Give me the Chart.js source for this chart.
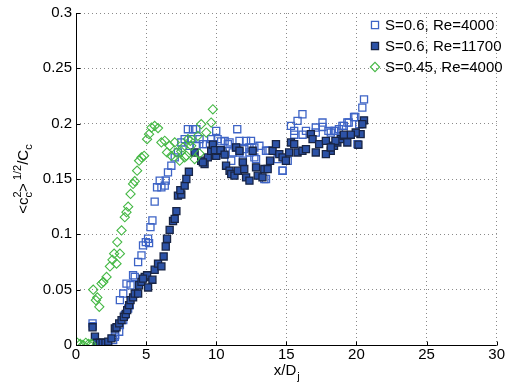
<!DOCTYPE html>
<html>
<head>
<meta charset="utf-8">
<script src="https://cdn.jsdelivr.net/npm/chart.js@4"></script>
<style>
html,body{margin:0;padding:0;background:#fff;}
#wrap{width:506px;height:391px;position:relative;}
</style>
</head>
<body>
<div id="wrap"><canvas id="c" width="506" height="391"></canvas></div>
<script>
// ---- DATA ----
const xTicks = [0, 5, 10, 15, 20, 25, 30];
const yTicks = [0, 0.05, 0.1, 0.15, 0.2, 0.25, 0.3];
const seriesNames = ["S=0.6, Re=4000", "S=0.6, Re=11700", "S=0.45, Re=4000"];

// S=0.6, Re=4000 (open squares)
const openX = [1.18,1.2,2.65,2.77,2.8,3.08,3.13,3.37,3.48,3.72,3.84,3.13,3.37,3.6,3.89,4.07,4.19,4.43,4.67,4.78,4.98,5.21,5.14,5.31,5.45,5.61,5.78,5.97,6.09,6.33,6.4,6.56,6.8,7.04,7.27,7.51,7.75,7.98,8.22,8.34,8.58,8.81,9.29,9.64,10.0,10.1,
  10.6,10.95,11.5,11.66,12.13,12.48,13.08,11.07,11.9,12.37,12.84,13.55,13.8,14.38,14.73,13.55,15.33,15.8,16.15,15.56,16.4,17.1,17.58,18.17,18.5,19.1,
  9.05,9.76,10.35,10.83,11.4,11.18,11.66,12.0,12.37,10.47,8.1,8.6,
  20.54,20.42,19.83,19.35,19.0,18.4,20.07,20.2,
  17.58,17.1,15.56,16.16,18.0,18.75,19.45,19.92,14.73,13.67,12.72,12.72,13.43,15.1];
const openY = [0.0195,0.017,0.0045,0.0075,0.009,0.012,0.018,0.0225,0.027,0.033,0.036,0.0405,0.0465,0.0555,0.054,0.063,0.0615,0.075,0.081,0.09,0.093,0.092,0.096,0.1065,0.1125,0.1295,0.1425,0.1485,0.1425,0.144,0.1485,0.156,0.162,0.1695,0.174,0.183,0.186,0.195,0.186,0.195,0.195,0.186,0.1815,0.186,0.1935,0.186,
  0.1845,0.183,0.195,0.1845,0.1845,0.1845,0.18,0.1665,0.1665,0.174,0.168,0.1755,0.1755,0.168,0.1575,0.15,0.198,0.2025,0.2085,0.1935,0.1935,0.1965,0.201,0.192,0.1935,0.198,
  0.1815,0.1815,0.184,0.1815,0.1785,0.174,0.174,0.177,0.1785,0.174,0.18,0.18,
  0.222,0.2145,0.206,0.201,0.198,0.1935,0.1815,0.1995,
  0.197,0.192,0.19,0.19,0.1935,0.195,0.201,0.206,0.1575,0.1755,0.1785,0.1695,0.15,0.1665];

// S=0.6, Re=11700 (filled squares)
const fillX = [1.18,1.35,1.5,1.7,1.9,2.1,2.3,2.53,2.77,2.89,3.08,3.25,3.41,3.55,3.65,3.79,3.89,4.07,4.19,4.43,4.5,4.67,4.9,5.07,4.78,5.14,5.45,5.61,5.85,6.09,6.25,6.4,6.49,6.68,6.92,7.04,7.16,7.27,7.51,7.44,7.75,7.87,8.05,8.46,8.93,9.17,9.4,9.64,9.76,10.0,
  9.05,10.1,10.35,10.7,10.95,11.07,11.3,11.54,11.9,12.13,12.37,12.0,11.42,11.66,12.6,12.84,12.96,13.3,13.43,13.67,13.84,14.02,14.26,14.5,14.73,14.97,15.2,15.33,15.56,15.8,16.15,16.4,16.75,16.87,17.1,17.34,17.82,18.17,18.4,18.64,18.88,19.1,17.82,
  20.54,20.42,20.3,19.95,19.6,19.1,18.5,19.35,20.14,18.17,9.9,10.3,10.6];
const fillY = [0.016,0.0075,0.002,0.002,0.002,0.002,0.003,0.006,0.015,0.016,0.0195,0.0225,0.0255,0.028,0.0315,0.036,0.0405,0.043,0.0465,0.0465,0.054,0.057,0.0615,0.063,0.06,0.052,0.059,0.068,0.0735,0.071,0.08,0.089,0.096,0.104,0.112,0.114,0.121,0.135,0.136,0.14,0.144,0.15,0.1565,0.174,0.1665,0.1635,0.1695,0.1755,0.181,0.171,
  0.165,0.1755,0.1755,0.162,0.1575,0.1545,0.153,0.1575,0.165,0.1515,0.1485,0.159,0.1785,0.1755,0.1755,0.1605,0.153,0.1515,0.159,0.159,0.1665,0.1755,0.1815,0.1725,0.1695,0.1665,0.174,0.183,0.1815,0.174,0.1755,0.177,0.1905,0.186,0.174,0.1815,0.1845,0.1755,0.18,0.183,0.186,0.189,0.1725,
  0.203,0.1995,0.1905,0.192,0.19,0.19,0.1845,0.183,0.181,0.1785,0.176,0.176,0.172];

// S=0.45, Re=4000 (green diamonds)
const greenX = [0.1,0.3,0.5,0.7,0.9,1.1,1.23,1.42,1.52,1.66,1.82,1.95,2.18,2.42,2.6,2.72,2.89,3.13,2.94,3.25,3.48,3.6,3.72,3.89,4.07,4.19,4.36,4.5,4.67,4.86,5.07,5.21,5.38,5.61,5.85,6.09,6.33,6.49,6.68,6.8,7.04,7.16,7.39,7.63,7.87,8.15,8.46,8.69,8.93,9.29,9.64,9.76,7.98,8.22,7.5,7.75,8.81];
const greenY = [0.002,0.001,0.0,0.002,0.001,0.001,0.05,0.0405,0.043,0.0345,0.0555,0.057,0.0615,0.071,0.077,0.0825,0.0735,0.0825,0.093,0.1035,0.1155,0.12,0.125,0.1365,0.1455,0.148,0.1575,0.1665,0.1695,0.171,0.186,0.1905,0.1965,0.198,0.196,0.183,0.1845,0.174,0.18,0.171,0.183,0.174,0.1665,0.1785,0.171,0.1845,0.168,0.189,0.1995,0.192,0.201,0.213,0.186,0.18,0.175,0.1695,0.173];

const pts = (xs, ys) => xs.map((x, i) => ({x: x, y: ys[i]}));

const FONT = '"Liberation Sans", Arial, Helvetica, sans-serif';
const OPEN_C = '#3e64c6';
const FILL_C = '#2c52a6';
const FILL_B = '#182444';
const GREEN_C = '#45b845';

const styles = [
  {pointStyle: 'rect', radius: 5, bg: 'rgba(255,255,255,0)', border: OPEN_C, bw: 1.3},
  {pointStyle: 'rect', radius: 5, bg: FILL_C, border: FILL_B, bw: 1.3},
  {pointStyle: 'rectRot', radius: 4.6, bg: 'rgba(255,255,255,0)', border: GREEN_C, bw: 1.1}
];

const overlay = {
  id: 'overlay',
  afterDraw(chart) {
    const ctx = chart.ctx;
    const xs = chart.scales.x, ys = chart.scales.y;
    const a = chart.chartArea;
    ctx.save();
    // solid axis lines and inside ticks
    ctx.strokeStyle = '#000';
    ctx.lineWidth = 1;
    ctx.setLineDash([]);
    ctx.beginPath();
    const L = Math.round(a.left) + 0.5, B = Math.round(a.bottom) + 0.5;
    ctx.moveTo(L, a.top); ctx.lineTo(L, B); ctx.lineTo(a.right, B);
    xTicks.forEach(v => { const p = Math.round(xs.getPixelForValue(v)) + 0.5; ctx.moveTo(p, B); ctx.lineTo(p, B - 4); });
    yTicks.forEach(v => { const p = Math.round(ys.getPixelForValue(v)) + 0.5; ctx.moveTo(L, p); ctx.lineTo(L + 4, p); });
    ctx.stroke();

    // x title: x/D_j
    ctx.fillStyle = '#000';
    ctx.textBaseline = 'alphabetic';
    ctx.textAlign = 'left';
    const big = '15px ' + FONT, small = '11px ' + FONT;
    ctx.font = big;
    const w1 = ctx.measureText('x/D').width;
    ctx.font = small;
    const w2 = ctx.measureText('j').width;
    let x0 = (a.left + a.right) / 2 - (w1 + w2) / 2;
    ctx.font = big; ctx.fillText('x/D', x0, 375);
    ctx.font = small; ctx.fillText('j', x0 + w1 + 1, 380);

    // y title: <c_c^2>^{1/2}/C_c
    const segs = [
      {t: '<c', f: big, dy: 0, adv: true},
      {t: '2', f: small, dy: -7, adv: false},
      {t: 'c', f: small, dy: 4, adv: true},
      {t: '>', f: big, dy: 0, adv: true},
      {t: ' 1/2', f: small, dy: -7, adv: true},
      {t: '/C', f: big, dy: 0, adv: true},
      {t: 'c', f: small, dy: 4, adv: true}
    ];
    let total = 0;
    segs.forEach(s => { ctx.font = s.f; s.w = ctx.measureText(s.t).width; if (s.adv) total += s.w; });
    ctx.translate(28, (a.top + a.bottom) / 2);
    ctx.rotate(-Math.PI / 2);
    let cx = -total / 2;
    segs.forEach(s => { ctx.font = s.f; ctx.fillText(s.t, cx, s.dy); if (s.adv) cx += s.w; });
    ctx.restore();

    // legend
    ctx.save();
    ctx.font = '15px ' + FONT;
    ctx.textBaseline = 'middle';
    ctx.fillStyle = '#000';
    const rowsY = [25, 46, 67];
    chart.data.datasets.forEach((ds, i) => {
      const st = styles[i];
      ctx.lineWidth = st.bw;
      ctx.strokeStyle = st.border;
      ctx.fillStyle = st.bg;
      Chart.helpers.drawPoint(ctx, {pointStyle: st.pointStyle, radius: st.radius, rotation: 0, borderWidth: st.bw}, 375, rowsY[i]);
      ctx.fillStyle = '#000';
      ctx.fillText(seriesNames[i], 385, rowsY[i] + 1);
    });
    ctx.restore();
  }
};

const datasets = [
  {label: seriesNames[0], data: pts(openX, openY), order: 3},
  {label: seriesNames[1], data: pts(fillX, fillY), order: 2},
  {label: seriesNames[2], data: pts(greenX, greenY), order: 1}
].map((d, i) => Object.assign(d, {
  pointStyle: styles[i].pointStyle,
  pointRadius: styles[i].radius,
  pointBackgroundColor: styles[i].bg,
  pointBorderColor: styles[i].border,
  pointBorderWidth: styles[i].bw,
  showLine: false
}));

new Chart(document.getElementById('c'), {
  type: 'scatter',
  data: {datasets: datasets},
  options: {
    responsive: false,
    animation: false,
    events: [],
    layout: {padding: {left: 0, right: 8, top: 12, bottom: 0}},
    plugins: {legend: {display: false}, tooltip: {enabled: false}},
    scales: {
      x: {
        type: 'linear', min: 0, max: 30,
        afterBuildTicks: s => { s.ticks = xTicks.map(v => ({value: v})); },
        afterFit: s => { s.height = 46; },
        ticks: {font: {family: FONT, size: 15}, color: '#000', padding: 1, maxRotation: 0, autoSkip: false},
        grid: {color: '#8a8a8a', drawTicks: false, lineWidth: 1},
        border: {display: false, color: '#000', width: 1, dash: [1, 3]}
      },
      y: {
        type: 'linear', min: 0, max: 0.3,
        afterBuildTicks: s => { s.ticks = yTicks.map(v => ({value: v})); },
        afterFit: s => { s.width = 76; },
        ticks: {font: {family: FONT, size: 15}, color: '#000', padding: 4, callback: v => String(+v.toFixed(2))},
        grid: {color: '#8a8a8a', drawTicks: false, lineWidth: 1},
        border: {display: false, color: '#000', width: 1, dash: [1, 3]}
      }
    }
  },
  plugins: [overlay]
});
</script>
</body>
</html>
